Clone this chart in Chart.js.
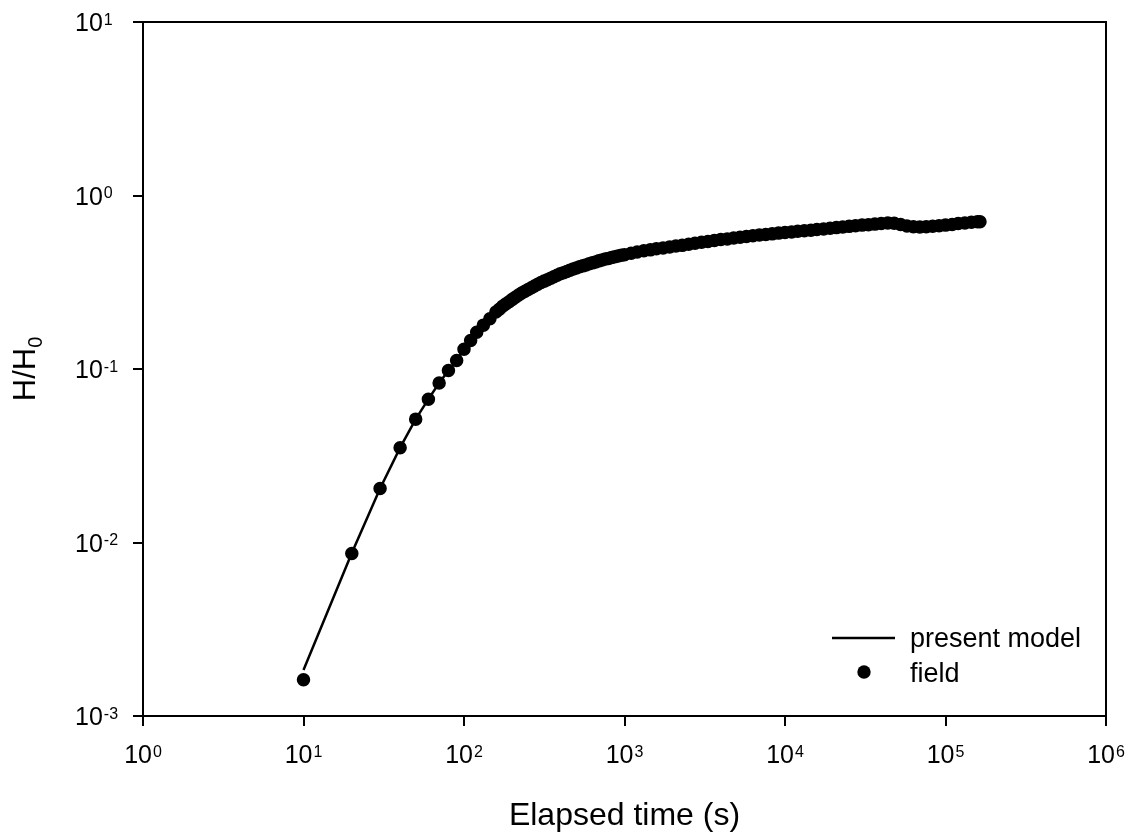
<!DOCTYPE html>
<html>
<head>
<meta charset="utf-8">
<script src="https://cdn.jsdelivr.net/npm/chart.js@4.4.0/dist/chart.umd.min.js"></script>
<style>
  html, body { margin: 0; padding: 0; background: #fff; }
  #wrap { width: 1139px; height: 839px; }
</style>
</head>
<body>
<div id="wrap"><canvas id="slugChart" width="1139" height="839"></canvas></div>
<script>
// field readings (s, H/H0)
const fieldTime = [10, 20, 30, 40, 50, 60, 70, 80, 90, 100,
  110, 120, 132, 145, 158, 166, 174, 182, 191, 200, 209, 219, 229, 240, 251, 263, 275, 288, 302, 316, 331, 347, 363, 380, 398,
  417, 437, 457, 479, 501, 525, 550, 575, 603, 631, 661, 692, 724, 759, 794, 832, 871, 912, 955,
  1000, 1100, 1200, 1320, 1450, 1580, 1740, 1910, 2090, 2290, 2510, 2750, 3020, 3310, 3630, 3980, 4370, 4790, 5250, 5750, 6310, 6920, 7590, 8320, 9120,
  10000, 11000, 12000, 13200, 14500, 15800, 17400, 19100, 20900, 22900, 25100, 27500, 30200, 33100, 36300, 39800, 43700, 47900, 52500, 57500, 63100, 69200, 75900, 83200, 91200,
  100000, 110000, 120000, 132000, 145000, 158000, 164000];
const fieldRatio = [0.00162, 0.00865, 0.0205, 0.0352, 0.0514, 0.067, 0.083, 0.098, 0.112, 0.130,
  0.146, 0.163, 0.179, 0.195, 0.213, 0.221, 0.230, 0.237, 0.244, 0.252, 0.259, 0.267, 0.274, 0.281, 0.287, 0.294, 0.301, 0.308, 0.315, 0.321, 0.327, 0.334, 0.340, 0.347, 0.354,
  0.359, 0.365, 0.371, 0.377, 0.382, 0.388, 0.393, 0.398, 0.404, 0.409, 0.414, 0.420, 0.425, 0.430, 0.434, 0.439, 0.443, 0.448, 0.452,
  0.456, 0.465, 0.472, 0.480, 0.486, 0.493, 0.499, 0.505, 0.511, 0.516, 0.524, 0.531, 0.537, 0.543, 0.551, 0.557, 0.562, 0.569, 0.575, 0.581, 0.586, 0.592, 0.596, 0.601, 0.607,
  0.612, 0.617, 0.622, 0.627, 0.631, 0.637, 0.641, 0.647, 0.653, 0.659, 0.664, 0.670, 0.675, 0.679, 0.684, 0.690, 0.695, 0.692, 0.681, 0.667, 0.661, 0.659, 0.661, 0.665, 0.670,
  0.675, 0.681, 0.689, 0.695, 0.702, 0.705, 0.705];

// present model curve
const modelTime = [10, 20, 30, 40, 50, 60, 70, 80, 90, 100, 150, 200, 300, 500, 1000, 2000, 5000, 10000, 20000, 45000, 60000, 80000, 100000, 164000];
const modelRatio = [0.00184, 0.0087, 0.0205, 0.0352, 0.0514, 0.067, 0.083, 0.098, 0.112, 0.130, 0.194, 0.250, 0.315, 0.383, 0.456, 0.505, 0.569, 0.612, 0.650, 0.697, 0.662, 0.660, 0.675, 0.705];

const xTickExp = [0, 1, 2, 3, 4, 5, 6];
const yTickExp = [-3, -2, -1, 0, 1];
const seriesNames = ["present model", "field"];
const xTitle = "Elapsed time (s)";

const FONT = "'Liberation Sans', Arial, sans-serif";

// "10" with a raised exponent
function drawPower(ctx, exp, x, baseline, align) {
  ctx.font = "25px " + FONT;
  const wBase = ctx.measureText("10").width;
  ctx.font = "16px " + FONT;
  const wExp = ctx.measureText(String(exp)).width;
  let left = x;
  if (align === "center") left = x - (wBase + 1 + wExp) / 2;
  ctx.textAlign = "left";
  ctx.textBaseline = "alphabetic";
  ctx.font = "25px " + FONT;
  ctx.fillText("10", left, baseline);
  ctx.font = "16px " + FONT;
  ctx.fillText(String(exp), left + wBase + 1, baseline - 6.5);
}

const decorations = {
  id: "decorations",
  afterDraw(chart) {
    const ctx = chart.ctx;
    const area = chart.chartArea;
    const xs = chart.scales.x;
    const ys = chart.scales.y;
    ctx.save();
    ctx.fillStyle = "#000";
    ctx.strokeStyle = "#000";

    // closing box lines
    ctx.lineWidth = 2;
    ctx.beginPath();
    ctx.moveTo(area.left - 1, area.top);
    ctx.lineTo(area.right, area.top);
    ctx.lineTo(area.right, area.bottom);
    ctx.stroke();

    // tick labels
    xTickExp.forEach(e => drawPower(ctx, e, xs.getPixelForValue(Math.pow(10, e)), 763, "center"));
    yTickExp.forEach(e => drawPower(ctx, e, 75, ys.getPixelForValue(Math.pow(10, e)) + 9, "left"));

    // x title
    ctx.font = "32px " + FONT;
    ctx.textAlign = "center";
    ctx.textBaseline = "alphabetic";
    ctx.fillText(xTitle, (area.left + area.right) / 2, 825);

    // y title H/H0
    ctx.save();
    ctx.translate(35, (area.top + area.bottom) / 2);
    ctx.rotate(-Math.PI / 2);
    ctx.font = "31px " + FONT;
    const wMain = ctx.measureText("H/H").width;
    ctx.font = "20px " + FONT;
    const wSub = ctx.measureText("0").width;
    const start = -(wMain + wSub) / 2;
    ctx.textAlign = "left";
    ctx.font = "31px " + FONT;
    ctx.fillText("H/H", start, 0);
    ctx.font = "20px " + FONT;
    ctx.fillText("0", start + wMain, 7);
    ctx.restore();

    // legend
    ctx.lineWidth = 2.5;
    ctx.beginPath();
    ctx.moveTo(832, 638);
    ctx.lineTo(895, 638);
    ctx.stroke();
    ctx.beginPath();
    ctx.arc(864, 672, 6.7, 0, Math.PI * 2);
    ctx.fill();
    ctx.font = "27px " + FONT;
    ctx.textAlign = "left";
    ctx.fillText(seriesNames[0], 910, 647);
    ctx.fillText(seriesNames[1], 910, 682);

    ctx.restore();
  }
};

const ctx = document.getElementById("slugChart").getContext("2d");
const slugChart = new Chart(ctx, {
  type: "scatter",
  data: {
    datasets: [
      {
        label: seriesNames[0],
        data: modelTime.map((t, i) => ({ x: t, y: modelRatio[i] })),
        showLine: true,
        borderColor: "#000",
        borderWidth: 2.5,
        pointRadius: 0,
        fill: false,
        order: 1,
      },
      {
        label: seriesNames[1],
        data: fieldTime.map((t, i) => ({ x: t, y: fieldRatio[i] })),
        showLine: false,
        backgroundColor: "#000",
        borderColor: "#000",
        borderWidth: 1.5,
        pointRadius: 6,
        order: 2,
      },
    ],
  },
  options: {
    responsive: false,
    animation: false,
    devicePixelRatio: 1,
    layout: { padding: { left: 0, top: 22, right: 33, bottom: 0 } },
    scales: {
      x: {
        type: "logarithmic",
        min: 1,
        max: 1e6,
        afterBuildTicks: scale => { scale.ticks = xTickExp.map(e => ({ value: Math.pow(10, e) })); },
        afterFit: scale => { scale.height = 123; },
        ticks: { display: false },
        grid: { drawOnChartArea: false, drawTicks: true, tickLength: 10, color: "#000", tickColor: "#000", lineWidth: 2 },
        border: { display: true, color: "#000", width: 2 },
      },
      y: {
        type: "logarithmic",
        min: 1e-3,
        max: 10,
        afterBuildTicks: scale => { scale.ticks = yTickExp.map(e => ({ value: Math.pow(10, e) })); },
        afterFit: scale => { scale.width = 143; },
        ticks: { display: false },
        grid: { drawOnChartArea: false, drawTicks: true, tickLength: 10, color: "#000", tickColor: "#000", lineWidth: 2 },
        border: { display: true, color: "#000", width: 2 },
      },
    },
    plugins: {
      legend: { display: false },
      tooltip: { enabled: false },
    },
  },
  plugins: [decorations],
});
</script>
</body>
</html>
